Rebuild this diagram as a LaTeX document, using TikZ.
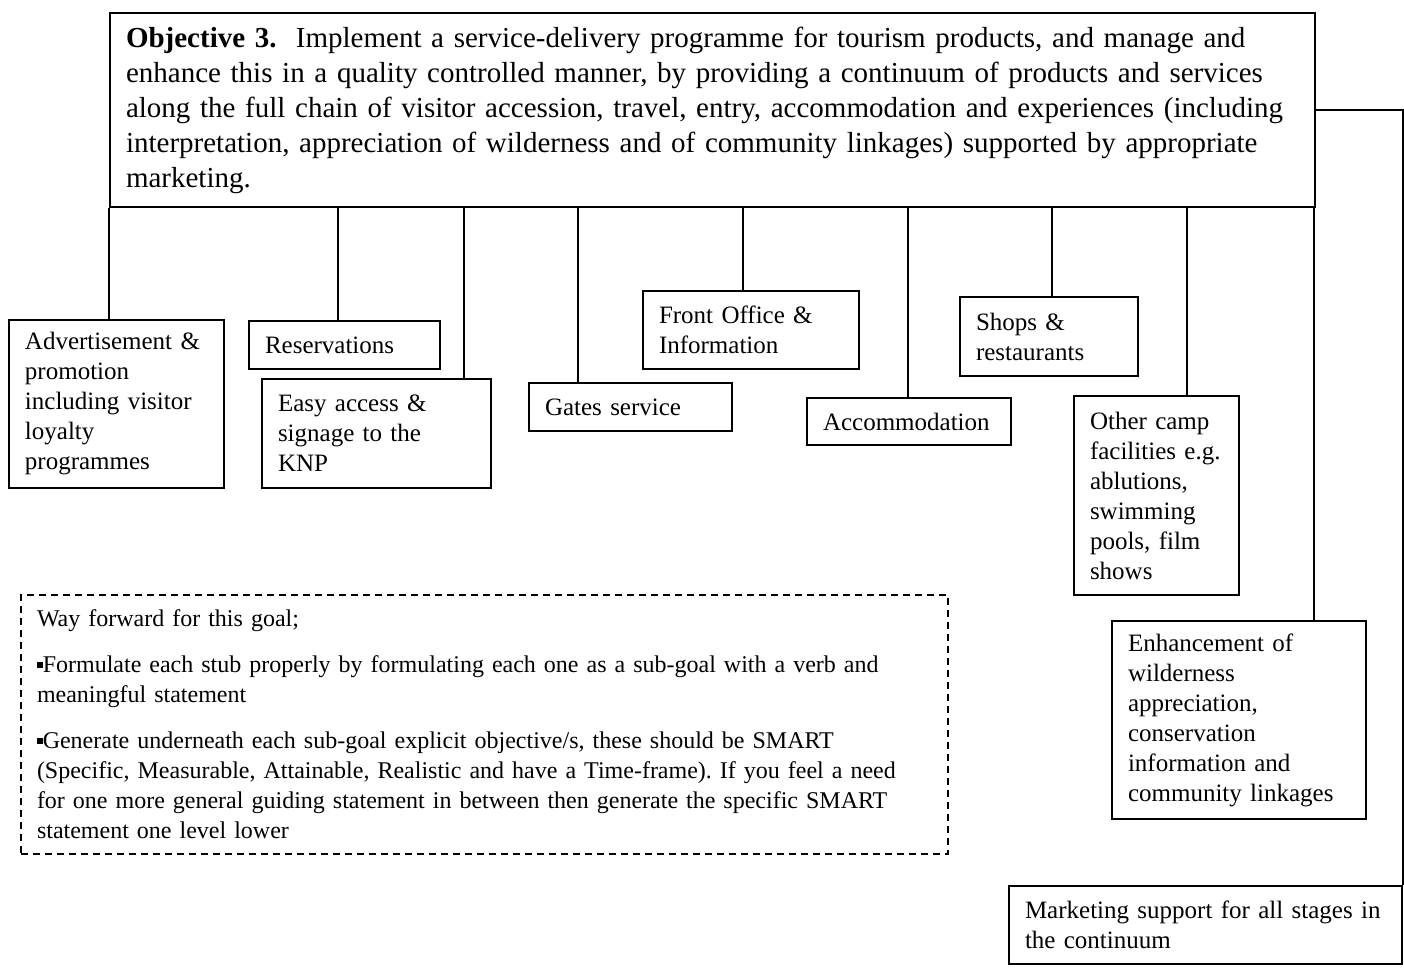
\documentclass[tikz,border=0pt]{standalone}
\usepackage{fontspec}
\setmainfont{Liberation Serif}
\frenchspacing

\newlength{\du}
\setlength{\du}{0.5pt}

\tikzset{
  box/.style={draw, anchor=north west, align=left, inner xsep=16\du, inner ysep=0pt,
    font=\fontsize{12.5}{15}\selectfont},
  wayfwd/.style={box, dash pattern=on 7\du off 5\du, font=\fontsize{12}{15}\selectfont},
}
\newcommand{\sqbul}{\raisebox{0.2em}{\rule{0.24em}{0.24em}}}

\begin{document}
\begin{tikzpicture}[x=1\du,y=-1\du,line width=2\du]
\useasboundingbox (0,0) rectangle (1404,969);
% objective
\node[box, text width=1173\du, minimum height=194\du, font=\fontsize{14.5}{17.5}\selectfont] (top) at (109,12)
  {\textbf{Objective 3.}\ \ Implement a service-delivery programme for tourism products, and manage and\\
   enhance this in a quality controlled manner, by providing a continuum of products and services\\
   along the full chain of visitor accession, travel, entry, accommodation and experiences (including\\
   interpretation, appreciation of wilderness and of community linkages) supported by appropriate\\
   marketing.};
% stubs
\node[box, text width=183\du, minimum height=168\du] (advert) at (8,319)
  {Advertisement \&\\promotion\\including visitor\\loyalty\\programmes};
\node[box, text width=159\du, minimum height=48\du] (resv) at (248,320) {Reservations};
\node[box, text width=197\du, minimum height=109\du] (easy) at (261,378)
  {Easy access \&\\signage to the\\KNP};
\node[box, text width=171\du, minimum height=48\du] (gates) at (528,382) {Gates service};
\node[box, text width=184\du, minimum height=78\du] (front) at (642,290)
  {Front Office \&\\Information};
\node[box, text width=172\du, minimum height=47\du] (accom) at (806,397) {Accommodation};
\node[box, text width=146\du, minimum height=79\du] (shops) at (959,296)
  {Shops \&\\restaurants};
\node[box, text width=133\du, minimum height=199\du] (camp) at (1073,395)
  {Other camp\\facilities e.g.\\ablutions,\\swimming\\pools, film\\shows};
\node[box, text width=222\du, minimum height=198\du] (enh) at (1111,620)
  {Enhancement of\\wilderness\\appreciation,\\conservation\\information and\\community linkages};
\node[box, text width=361\du, minimum height=78\du] (market) at (1008,885)
  {Marketing support for all stages in\\the continuum};
% way forward
\node[wayfwd, text width=895\du, minimum height=259\du] (way) at (20,594)
  {Way forward for this goal;\\[8pt]
   \sqbul Formulate each stub properly by formulating each one as a sub-goal with a verb and\\
   meaningful statement\\[8pt]
   \sqbul Generate underneath each sub-goal explicit objective/s, these should be SMART\\
   (Specific, Measurable, Attainable, Realistic and have a Time-frame). If you feel a need\\
   for one more general guiding statement in between then generate the specific SMART\\
   statement one level lower};
% connectors
\foreach \x/\b in {109/advert,338/resv,464/easy,578/gates,743/front,908/accom,1052/shops,1187/camp,1314/enh}
  \draw (top.south -| \x,0) -- (\b.north -| \x,0);
\draw (top.east) -| (market.north east);
\end{tikzpicture}
\end{document}
